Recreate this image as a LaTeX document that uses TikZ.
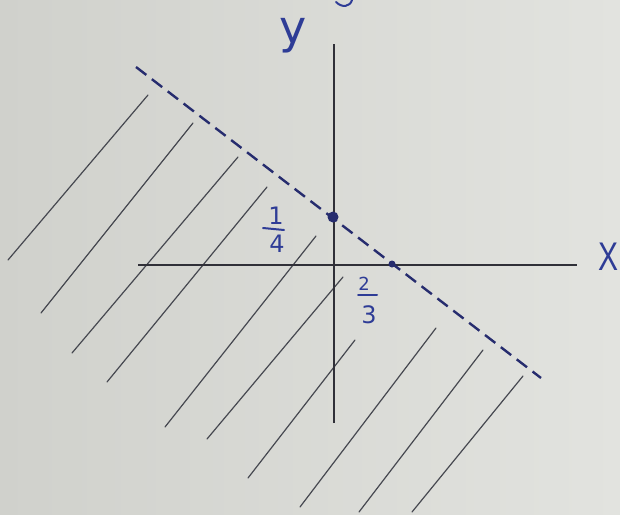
\documentclass[tikz,border=0pt]{standalone}
\usepackage{fontspec}
\setsansfont{DejaVu Sans}
\newfontfamily\xfont{Liberation Sans}
\definecolor{paperL}{RGB}{208,209,204}
\definecolor{paperR}{RGB}{226,227,223}
\definecolor{ink}{RGB}{48,48,56}
\definecolor{hatchc}{RGB}{70,72,80}
\definecolor{navy}{RGB}{38,44,110}
\definecolor{penblue}{RGB}{46,60,150}
\tikzset{
  axis/.style={draw=ink, line width=1.6pt},
  hatchline/.style={draw=hatchc, line width=1.2pt, line cap=round},
  boundary/.style={draw=navy, line width=2.4pt, dash pattern=on 13pt off 7pt},
  dotbig/.style={circle, fill=navy, inner sep=0pt, minimum size=11pt},
  dotsmall/.style={circle, fill=navy, inner sep=0pt, minimum size=7pt},
  lab/.style={text=penblue, inner sep=0pt, font=\sffamily\fontsize{24}{24}\selectfont},
  fracbar/.style={draw=penblue, line width=2pt, line cap=round},
}
\begin{document}
\begin{tikzpicture}[x=1pt,y=-1pt]
\shade[left color=paperL, right color=paperR] (0,0) rectangle (620,514);
\useasboundingbox (0,0) rectangle (620,514);
% hatching
\foreach \ax/\ay/\bx/\by in {
  8/260/148/95, 41/313/193/123, 72/353/238/157, 107/382/267/187,
  165/427/316/236, 207/439/343/277, 248/478/355/340, 300/507/436/328,
  359/512/483/350, 412/512/523/376}
  \draw[hatchline] (\ax,\ay) -- (\bx,\by);
% axes
\coordinate (xl) at (138,265);
\coordinate (xr) at (577,265);
\coordinate (yt) at (334,44);
\coordinate (yb) at (334,423);
\draw[axis] (xl) -- (xr);
\draw[axis] (yb) -- (yt);
% boundary line
\coordinate (ls) at (136,67);
\coordinate (le) at (541,378);
\draw[boundary] (ls) -- (le);
% intercept points
\node[dotbig] (py) at (333,217) {};
\node[dotsmall] (px) at (392,264) {};
% labels
\node[lab, font=\sffamily\fontsize{46}{46}\selectfont] (ylab) at (293,36) {y};
\node[lab, font=\xfont\fontsize{40}{40}\selectfont] (xlab) at (608,257) {\scalebox{0.75}[1]{X}};
\node[lab] (n1) at (276,216) {1};
\node[lab] (d4) at (277,244) {4};
\draw[fracbar] (263,228) -- (284,230);
\node[lab, font=\sffamily\fontsize{18}{18}\selectfont] (n2) at (364,284) {2};
\node[lab] (d3) at (369,315) {3};
\draw[fracbar] (358,295) -- (377,295);
% partial stroke at top edge
\draw[penblue, line width=2pt, line cap=round] (336,2) .. controls (342,8) and (350,7) .. (352,0);
\end{tikzpicture}
\end{document}
